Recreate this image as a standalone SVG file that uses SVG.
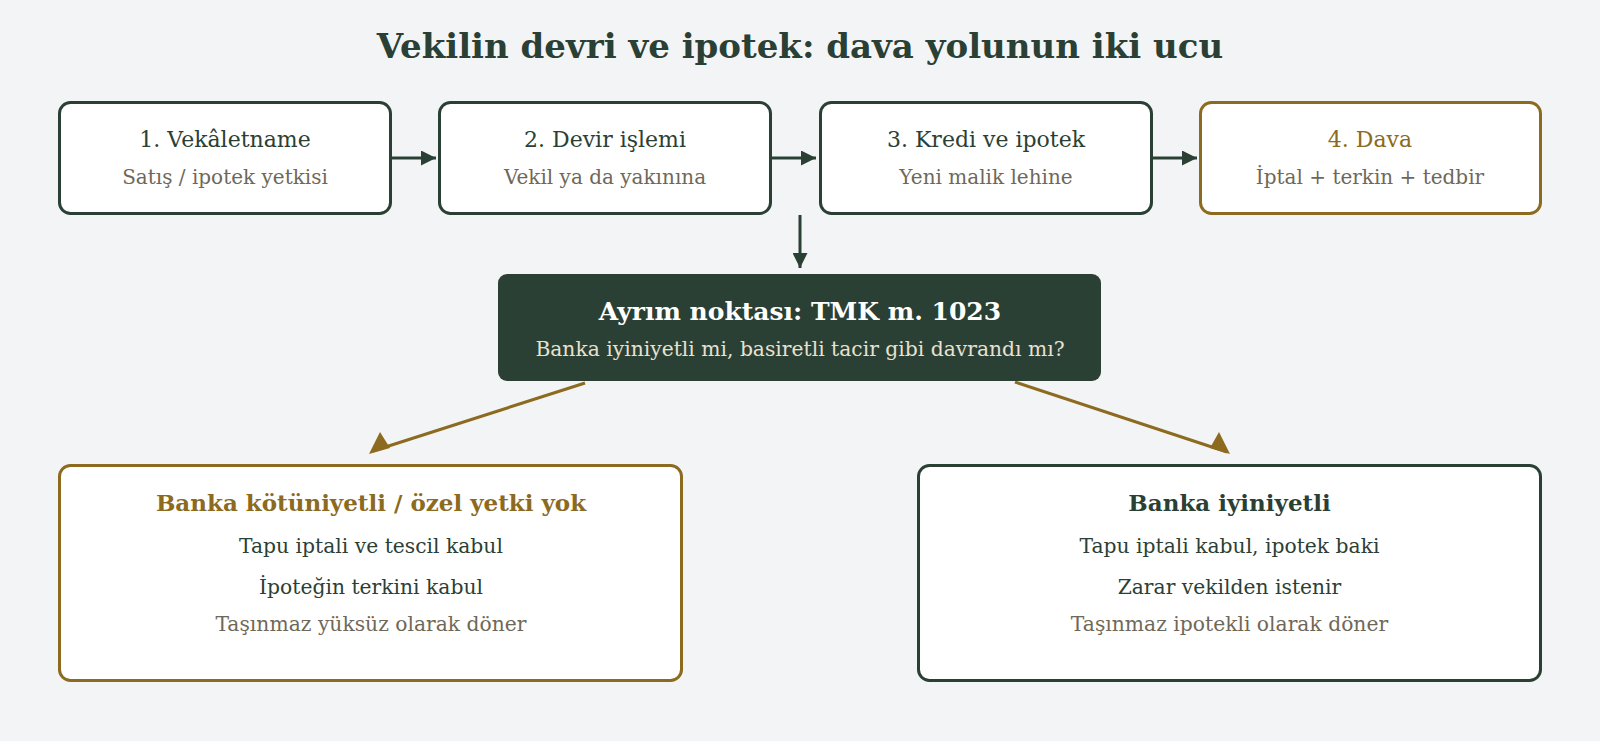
<svg xmlns="http://www.w3.org/2000/svg" width="1600" height="741" viewBox="0 0 1600 741">
<style>
text{font-family:"DejaVu Serif","Liberation Serif",serif;text-anchor:middle}
.box{fill:#ffffff;stroke:#2b4034;stroke-width:3}
.gold{stroke:#8c6a20}
.t{font-size:22px;fill:#2b4034}
.s{font-size:20px;fill:#6f6858}
.h{font-size:23px;font-weight:bold}
.b{font-size:20.3px;fill:#2b4034}
.g{font-size:20.3px;fill:#6f6858}
.conn{stroke:#2b4034;stroke-width:3;fill:none}
.connG{stroke:#8c6a20;stroke-width:3;fill:none}
</style>
<defs>
<marker id="ah" viewBox="0 0 10 10" refX="10" refY="5" markerWidth="5" markerHeight="5" orient="auto" markerUnits="strokeWidth">
<path d="M0,0 L10,5 L0,10 z" fill="#2b4034"/>
</marker>
</defs>
<rect width="1600" height="741" fill="#f3f4f6"/>
<text x="800" y="58" style="font-size:34px;font-weight:bold;fill:#2b4034">Vekilin devri ve ipotek: dava yolunun iki ucu</text>

<g id="connectors">
<line class="conn" x1="392" y1="158" x2="436" y2="158" marker-end="url(#ah)"/>
<line class="conn" x1="771" y1="158" x2="816" y2="158" marker-end="url(#ah)"/>
<line class="conn" x1="1152" y1="158" x2="1197" y2="158" marker-end="url(#ah)"/>
<line class="conn" x1="800" y1="215" x2="800" y2="268" marker-end="url(#ah)"/>
<line class="connG" x1="585" y1="383" x2="373" y2="451"/>
<polygon points="380,432 369,454 390,448" fill="#8c6a20"/>
<line class="connG" x1="1015" y1="382" x2="1227" y2="452"/>
<polygon points="1219,432 1210,448 1230,454" fill="#8c6a20"/>
</g>

<g id="n1">
<rect class="box" x="59.5" y="102.5" width="331" height="111" rx="11"/>
<text class="t" x="225" y="147">1. Vekâletname</text>
<text class="s" x="225" y="184">Satış / ipotek yetkisi</text>
</g>
<g id="n2">
<rect class="box" x="439.5" y="102.5" width="331" height="111" rx="11"/>
<text class="t" x="605" y="147">2. Devir işlemi</text>
<text class="s" x="605" y="184">Vekil ya da yakınına</text>
</g>
<g id="n3">
<rect class="box" x="820.5" y="102.5" width="331" height="111" rx="11"/>
<text class="t" x="986" y="147">3. Kredi ve ipotek</text>
<text class="s" x="986" y="184">Yeni malik lehine</text>
</g>
<g id="n4">
<rect class="box gold" x="1200.5" y="102.5" width="340" height="111" rx="11"/>
<text class="t" x="1370" y="147" style="fill:#8c6a20">4. Dava</text>
<text class="s" x="1370" y="184">İptal + terkin + tedbir</text>
</g>

<g id="decision">
<rect x="498" y="274" width="603" height="107" rx="9" fill="#2b4034"/>
<text x="800" y="320" style="font-size:25px;font-weight:bold;fill:#ffffff">Ayrım noktası: TMK m. 1023</text>
<text x="800" y="356" style="font-size:20.3px;fill:#e8e1d2">Banka iyiniyetli mi, basiretli tacir gibi davrandı mı?</text>
</g>

<g id="left">
<rect class="box gold" x="59.5" y="465.5" width="622" height="215" rx="11"/>
<text class="h" x="371" y="511" style="fill:#8c6a20">Banka kötüniyetli / özel yetki yok</text>
<text class="b" x="371" y="553">Tapu iptali ve tescil kabul</text>
<text class="b" x="371" y="594">İpoteğin terkini kabul</text>
<text class="g" x="371" y="631">Taşınmaz yüksüz olarak döner</text>
</g>

<g id="right">
<rect class="box" x="918.5" y="465.5" width="622" height="215" rx="11"/>
<text class="h" x="1229.5" y="511" style="fill:#2b4034">Banka iyiniyetli</text>
<text class="b" x="1229.5" y="553">Tapu iptali kabul, ipotek baki</text>
<text class="b" x="1229.5" y="594">Zarar vekilden istenir</text>
<text class="g" x="1229.5" y="631">Taşınmaz ipotekli olarak döner</text>
</g>
</svg>
